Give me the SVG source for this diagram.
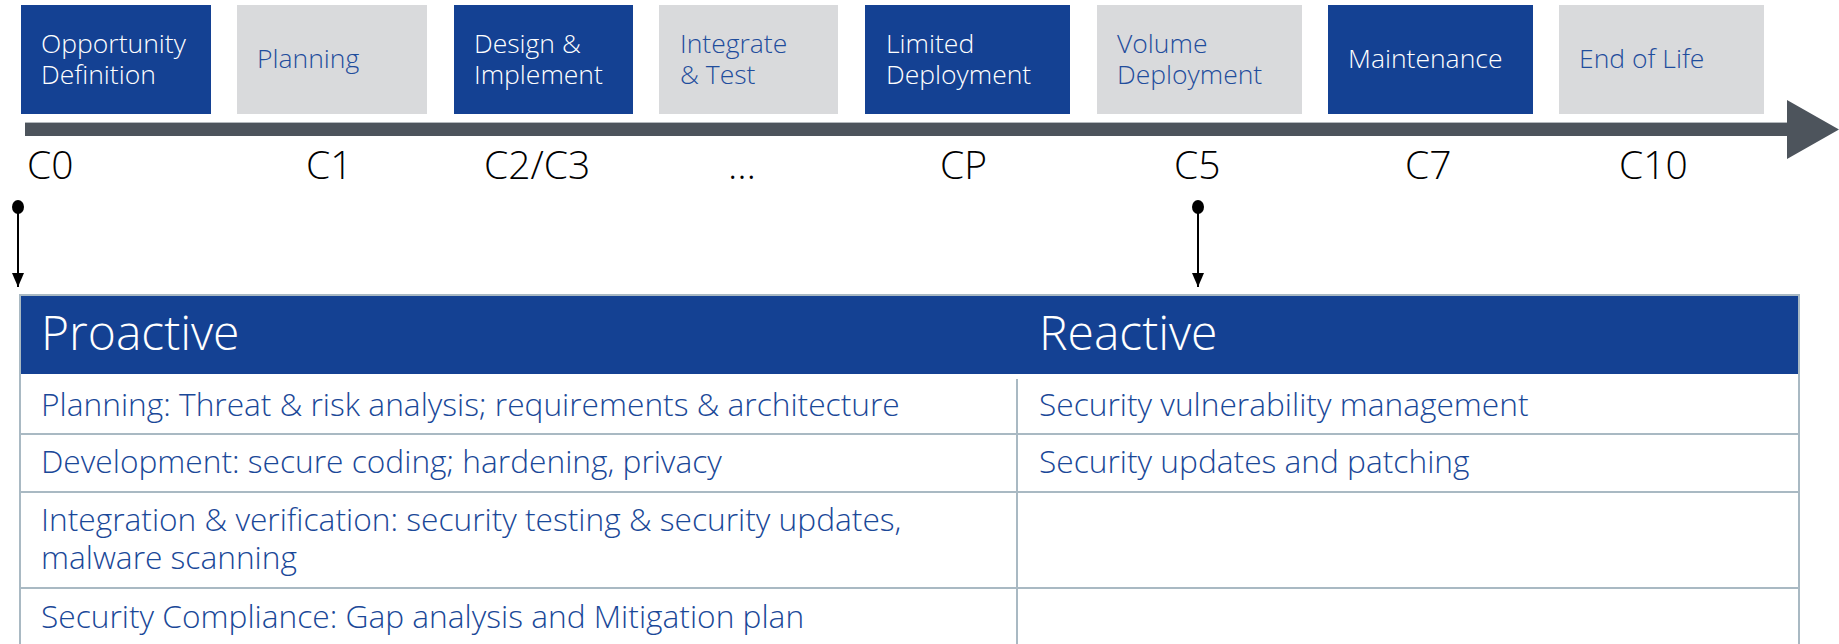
<svg xmlns="http://www.w3.org/2000/svg" width="1839" height="644" viewBox="0 0 1839 644">
  <style>
    .blue { fill: #144193; }
    .gray { fill: #d9dadc; }
    text { font-family: "Open Sans", "Noto Sans", sans-serif; font-weight: 300; }
    .tw { font-size: 26.5px; fill: #ffffff; }
    .tb { font-size: 26.5px; fill: #1f4d9c; }
    .cl { font-size: 39px; fill: #000000; }
    .hd { font-size: 48px; fill: #ffffff; }
    .rt { font-size: 31.7px; fill: #1a4898; }
    .grid { stroke: #a9b9c3; stroke-width: 2; fill: none; }
    .conn { stroke: #000000; stroke-width: 2; fill: none; }
  </style>
  <defs>
    <marker id="ah" viewBox="0 0 14 12" refX="14" refY="6" markerWidth="14" markerHeight="12" markerUnits="userSpaceOnUse" orient="auto">
      <path d="M0,0 L14,6 L0,12 Z" fill="#000"/>
    </marker>
  </defs>
  <rect width="1839" height="644" fill="#ffffff"/>

  <!-- Phase boxes -->
  <g id="phase-opportunity">
    <rect class="blue" x="21" y="5" width="190" height="109"/>
    <text class="tw" x="41" y="53">Opportunity<tspan x="41" dy="31">Definition</tspan></text>
  </g>
  <g id="phase-planning">
    <rect class="gray" x="237" y="5" width="190" height="109"/>
    <text class="tb" x="257" y="68">Planning</text>
  </g>
  <g id="phase-design">
    <rect class="blue" x="454" y="5" width="179" height="109"/>
    <text class="tw" x="474" y="53">Design &amp;<tspan x="474" dy="31">Implement</tspan></text>
  </g>
  <g id="phase-integrate">
    <rect class="gray" x="659" y="5" width="179" height="109"/>
    <text class="tb" x="680" y="53">Integrate<tspan x="680" dy="31">&amp; Test</tspan></text>
  </g>
  <g id="phase-limited">
    <rect class="blue" x="865" y="5" width="205" height="109"/>
    <text class="tw" x="886" y="53">Limited<tspan x="886" dy="31">Deployment</tspan></text>
  </g>
  <g id="phase-volume">
    <rect class="gray" x="1097" y="5" width="205" height="109"/>
    <text class="tb" x="1117" y="53">Volume<tspan x="1117" dy="31">Deployment</tspan></text>
  </g>
  <g id="phase-maintenance">
    <rect class="blue" x="1328" y="5" width="205" height="109"/>
    <text class="tw" x="1348" y="68">Maintenance</text>
  </g>
  <g id="phase-eol">
    <rect class="gray" x="1559" y="5" width="205" height="109"/>
    <text class="tb" x="1579" y="68">End of Life</text>
  </g>

  <!-- Timeline arrow -->
  <g id="timeline">
    <path d="M25,123 L1787,123 L1787,100 L1839,129.5 L1787,159 L1787,136 L25,136 Z" fill="#4d545c"/>
    <line x1="25" y1="122.5" x2="1787" y2="122.5" stroke="#b4b9bd" stroke-width="1"/>
  </g>

  <!-- Checkpoint labels -->
  <g id="checkpoints">
    <text class="cl" x="27" y="179">C0</text>
    <text class="cl" x="306" y="179">C1</text>
    <text class="cl" x="484" y="179">C2/C3</text>
    <text class="cl" x="728" y="179">…</text>
    <text class="cl" x="940" y="179">CP</text>
    <text class="cl" x="1174" y="179">C5</text>
    <text class="cl" x="1405" y="179">C7</text>
    <text class="cl" x="1619" y="179">C10</text>
  </g>

  <!-- Connectors -->
  <g id="connectors">
    <ellipse cx="18" cy="207" rx="6" ry="7" fill="#000"/>
    <line class="conn" x1="18" y1="207" x2="18" y2="287" marker-end="url(#ah)"/>
    <ellipse cx="1198" cy="207" rx="6" ry="7" fill="#000"/>
    <line class="conn" x1="1198" y1="207" x2="1198" y2="287" marker-end="url(#ah)"/>
  </g>

  <!-- Table -->
  <g id="table">
    <rect x="20" y="295" width="1779" height="370" fill="#ffffff" class="grid"/>
    <rect class="blue" x="21" y="296" width="1777" height="78"/>
    <line class="grid" x1="20" y1="434" x2="1799" y2="434"/>
    <line class="grid" x1="20" y1="492" x2="1799" y2="492"/>
    <line class="grid" x1="20" y1="588" x2="1799" y2="588"/>
    <line class="grid" x1="1017" y1="379" x2="1017" y2="644"/>
  </g>
  <g id="col-proactive">
    <text class="hd" x="41" y="350">Proactive</text>
    <text class="rt" x="41" y="416">Planning: Threat &amp; risk analysis; requirements &amp; architecture</text>
    <text class="rt" x="41" y="473">Development: secure coding; hardening, privacy</text>
    <text class="rt" x="41" y="531">Integration &amp; verification: security testing &amp; security updates,<tspan x="41" dy="38">malware scanning</tspan></text>
    <text class="rt" x="41" y="628">Security Compliance: Gap analysis and Mitigation plan</text>
  </g>
  <g id="col-reactive">
    <text class="hd" x="1039" y="350">Reactive</text>
    <text class="rt" x="1039" y="416">Security vulnerability management</text>
    <text class="rt" x="1039" y="473">Security updates and patching</text>
  </g>
</svg>
